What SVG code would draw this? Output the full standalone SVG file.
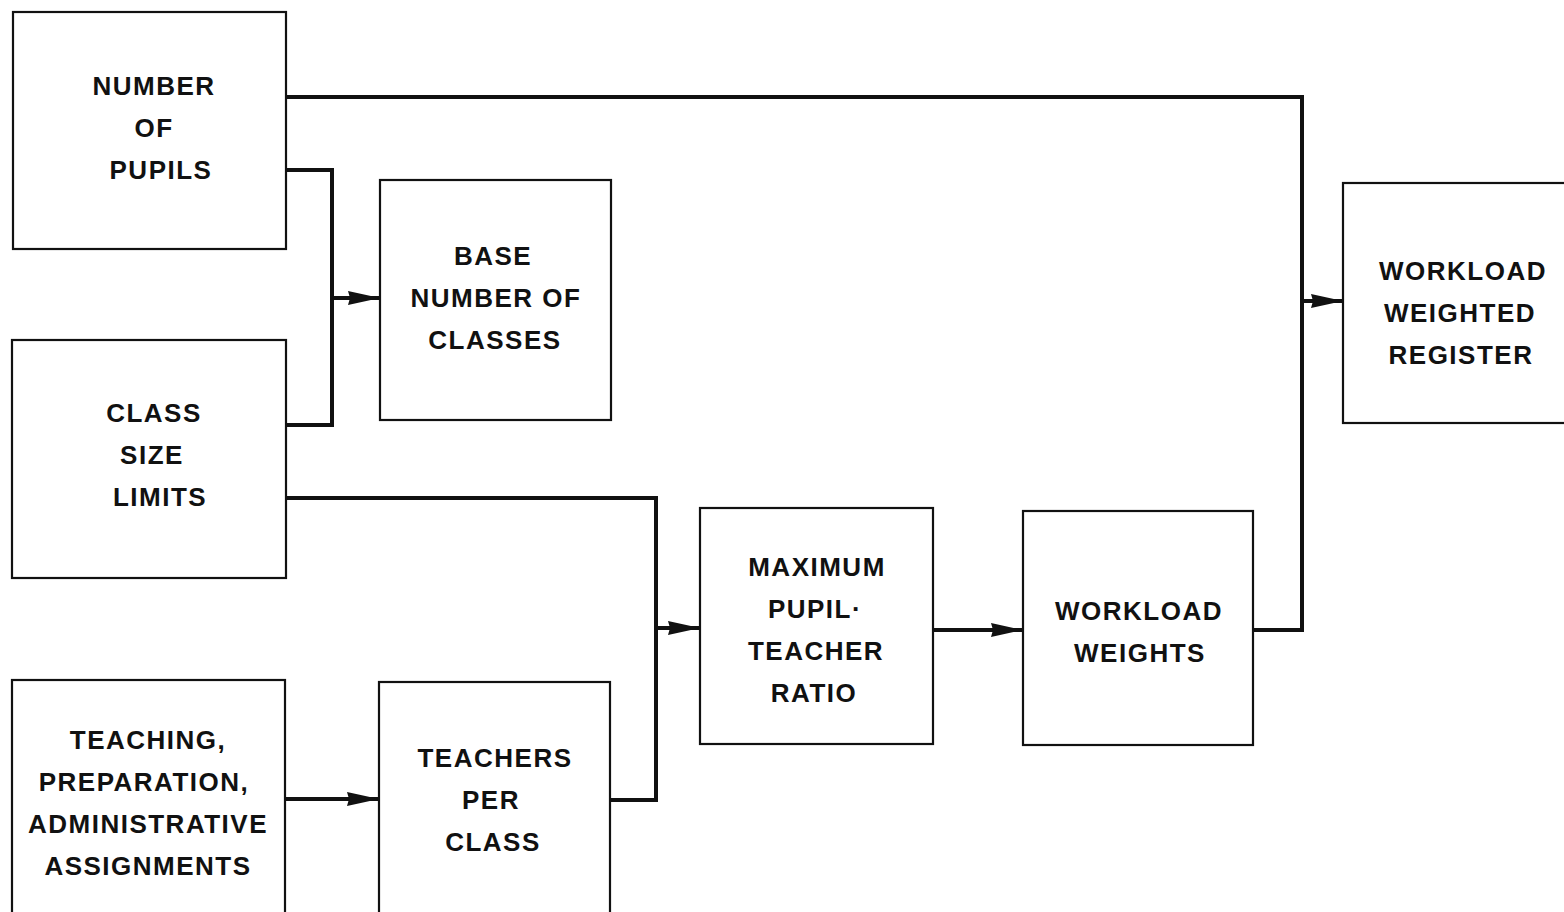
<svg xmlns="http://www.w3.org/2000/svg" width="1564" height="912" viewBox="0 0 1564 912">
<style>
.box{fill:#fff;stroke:#111;stroke-width:2.2}
.lbl{font-family:"Liberation Sans",Arial,sans-serif;font-weight:bold;font-size:26px;fill:#111;text-anchor:middle;letter-spacing:1.5px}
.con{fill:none;stroke:#111;stroke-width:4;stroke-linejoin:miter}
</style>
<defs>
<marker id="ah" viewBox="0 0 32 18" refX="31" refY="9" markerWidth="32" markerHeight="18" markerUnits="userSpaceOnUse" orient="auto">
<path d="M0,2 L32,9 L0,16 L2,9 Z" fill="#111"/>
</marker>
</defs>
<rect width="1564" height="912" fill="#fff"/>
<g id="connectors">
<path class="con" d="M286,97 H1302 V630 H1253"/>
<path class="con" d="M1302,301 H1342" marker-end="url(#ah)"/>
<path class="con" d="M286,170 H332 V425 H286"/>
<path class="con" d="M332,298 H379" marker-end="url(#ah)"/>
<path class="con" d="M286,498 H656 V800 H610"/>
<path class="con" d="M656,628 H699" marker-end="url(#ah)"/>
<path class="con" d="M285,799 H378" marker-end="url(#ah)"/>
<path class="con" d="M933,630 H1022" marker-end="url(#ah)"/>
</g>
<g id="n-pupils">
<rect class="box" x="13" y="12" width="273" height="237"/>
<text class="lbl" x="154" y="95">NUMBER</text>
<text class="lbl" x="154" y="137">OF</text>
<text class="lbl" x="161" y="179">PUPILS</text>
</g>
<g id="n-classsize">
<rect class="box" x="12" y="340" width="274" height="238"/>
<text class="lbl" x="154" y="422">CLASS</text>
<text class="lbl" x="152" y="464">SIZE</text>
<text class="lbl" x="160" y="506">LIMITS</text>
</g>
<g id="n-teaching">
<rect class="box" x="12" y="680" width="273" height="240"/>
<text class="lbl" x="148" y="749">TEACHING,</text>
<text class="lbl" x="144" y="791">PREPARATION,</text>
<text class="lbl" x="148" y="833">ADMINISTRATIVE</text>
<text class="lbl" x="148" y="875">ASSIGNMENTS</text>
</g>
<g id="n-base">
<rect class="box" x="380" y="180" width="231" height="240"/>
<text class="lbl" x="493" y="265">BASE</text>
<text class="lbl" x="496" y="307">NUMBER OF</text>
<text class="lbl" x="495" y="349">CLASSES</text>
</g>
<g id="n-teachers">
<rect class="box" x="379" y="682" width="231" height="240"/>
<text class="lbl" x="495" y="767">TEACHERS</text>
<text class="lbl" x="491" y="809">PER</text>
<text class="lbl" x="493" y="851">CLASS</text>
</g>
<g id="n-max">
<rect class="box" x="700" y="508" width="233" height="236"/>
<text class="lbl" x="817" y="576">MAXIMUM</text>
<text class="lbl" x="815" y="618">PUPIL·</text>
<text class="lbl" x="816" y="660">TEACHER</text>
<text class="lbl" x="814" y="702">RATIO</text>
</g>
<g id="n-weights">
<rect class="box" x="1023" y="511" width="230" height="234"/>
<text class="lbl" x="1139" y="620">WORKLOAD</text>
<text class="lbl" x="1140" y="662">WEIGHTS</text>
</g>
<g id="n-register">
<rect class="box" x="1343" y="183" width="230" height="240"/>
<text class="lbl" x="1463" y="280">WORKLOAD</text>
<text class="lbl" x="1460" y="322">WEIGHTED</text>
<text class="lbl" x="1461" y="364">REGISTER</text>
</g>
</svg>
